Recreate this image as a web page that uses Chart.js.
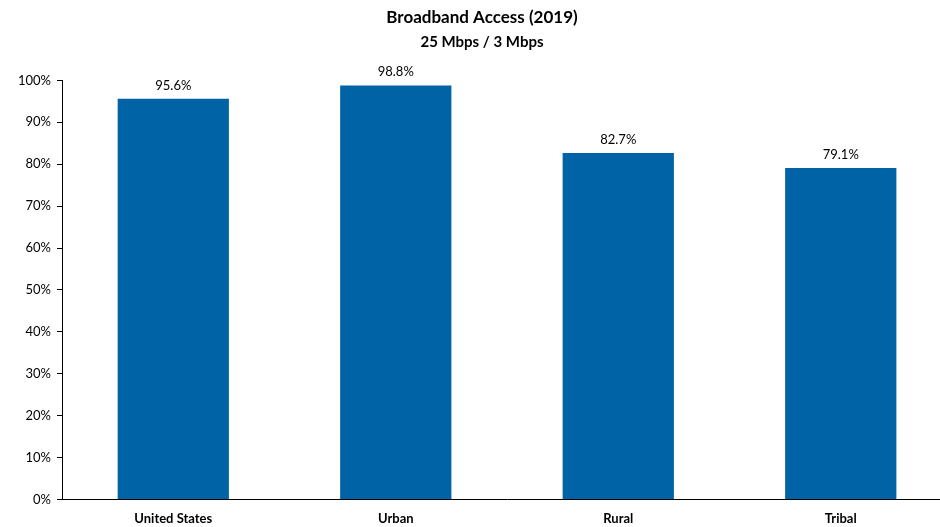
<!DOCTYPE html>
<html>
<head>
<meta charset="utf-8">
<script src="https://cdn.jsdelivr.net/npm/chart.js@4"></script>
<style>
  html, body { margin: 0; padding: 0; background: #fff; overflow: hidden; }
  #wrap { width: 952px; height: 531px; }
</style>
</head>
<body>
<div id="wrap"><canvas id="chart"></canvas></div>
<script>
// Broadband access 2019, 25/3 Mbps
const categories = ['United States', 'Urban', 'Rural', 'Tribal'];
const accessPct = [95.6, 98.8, 82.7, 79.1];
const yTicks = [0, 10, 20, 30, 40, 50, 60, 70, 80, 90, 100];

const FONT = 'Lato, "Open Sans", sans-serif';

// labels above each bar
const barLabels = {
  id: 'barLabels',
  afterDatasetsDraw(chart) {
    const ctx = chart.ctx;
    const meta = chart.getDatasetMeta(0);
    ctx.save();
    ctx.font = '13px ' + FONT;
    ctx.fillStyle = '#000';
    ctx.textAlign = 'center';
    ctx.textBaseline = 'bottom';
    meta.data.forEach((bar, i) => {
      ctx.fillText(accessPct[i].toFixed(1) + '%', bar.x, bar.y - 7);
    });
    ctx.restore();
  }
};

new Chart(document.getElementById('chart'), {
  type: 'bar',
  data: {
    labels: categories,
    datasets: [{
      data: accessPct,
      backgroundColor: '#0063A6',
      barPercentage: 0.5,
      categoryPercentage: 1.0
    }]
  },
  options: {
    responsive: true,
    maintainAspectRatio: false,
    animation: false,
    layout: { padding: { left: 12, right: 0, top: 0, bottom: 0 } },
    plugins: {
      legend: { display: false },
      tooltip: { enabled: false },
      title: {
        display: true,
        text: 'Broadband Access (2019)',
        color: '#000',
        font: { family: FONT, size: 17, weight: 'bold' },
        padding: { top: 7, bottom: 6 }
      },
      subtitle: {
        display: true,
        text: '25 Mbps / 3 Mbps',
        color: '#000',
        font: { family: FONT, size: 15, weight: 'bold' },
        padding: { bottom: 29 }
      }
    },
    scales: {
      x: {
        grid: { display: false },
        border: { display: true, color: '#000', width: 1 },
        ticks: {
          color: '#000',
          font: { family: FONT, size: 13, weight: 'bold' },
          padding: 4
        }
      },
      y: {
        min: 0,
        max: 100,
        afterBuildTicks: axis => { axis.ticks = yTicks.map(v => ({ value: v })); },
        grid: { drawOnChartArea: false, drawTicks: true, tickLength: 5, color: '#000' },
        border: { display: true, color: '#000', width: 1 },
        ticks: {
          color: '#000',
          font: { family: FONT, size: 13 },
          padding: 6,
          callback: val => val + '%'
        }
      }
    }
  },
  plugins: [barLabels]
});
</script>
</body>
</html>
